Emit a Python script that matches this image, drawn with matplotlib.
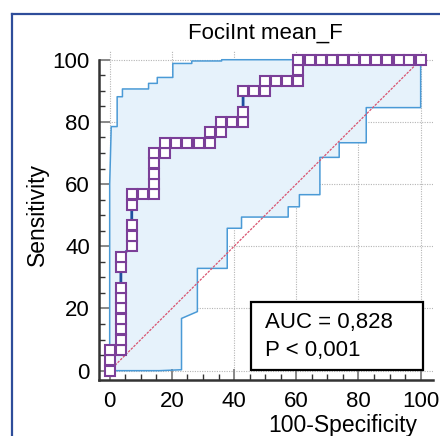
import numpy as np
import matplotlib
matplotlib.use("Agg")
import matplotlib.pyplot as plt
from matplotlib.lines import Line2D
from matplotlib.patches import Rectangle
from matplotlib.ticker import MultipleLocator

plt.rcParams['font.family'] = ['Liberation Sans', 'DejaVu Sans']

title = "FociInt mean_F"
xlabel = "100-Specificity"
ylabel = "Sensitivity"
auc_text = "AUC = 0,828"
p_text = "P < 0,001"
ticks = [0, 20, 40, 60, 80, 100]

# ROC criterion points (100-Specificity, Sensitivity)
fpr = [0, 0, 0, 3.6, 3.6, 3.6, 3.6, 3.6, 3.6, 3.6, 3.6, 3.6,
       7.1, 7.1, 7.1, 7.1, 7.1, 10.7, 14.3, 14.3, 14.3, 14.3, 14.3,
       17.9, 17.9, 21.4, 25.0, 28.6, 32.1, 32.1, 35.7, 35.7, 39.3,
       42.9, 42.9, 42.9, 46.4, 50.0, 50.0, 53.6, 57.1, 60.7, 60.7, 60.7,
       64.3, 67.9, 71.4, 75.0, 78.6, 82.1, 85.7, 89.3, 92.9, 96.4, 100]
tpr = [0, 3.3, 6.7, 6.7, 10.0, 13.3, 16.7, 20.0, 23.3, 26.7, 33.3, 36.7,
       40.0, 43.3, 46.7, 53.3, 56.7, 56.7, 56.7, 60.0, 63.3, 66.7, 70.0,
       70.0, 73.3, 73.3, 73.3, 73.3, 73.3, 76.7, 76.7, 80.0, 80.0,
       80.0, 83.3, 90.0, 90.0, 90.0, 93.3, 93.3, 93.3, 93.3, 96.7, 100,
       100, 100, 100, 100, 100, 100, 100, 100, 100, 100, 100]

# confidence band
upper_x = [0, 0, 0.5, 2.4, 2.4, 4.1, 4.1, 12.5, 12.5, 15.3, 15.3, 20.3, 20.3,
           26.4, 26.4, 36.0, 36.0, 100]
upper_y = [0, 60, 78.5, 78.5, 88.1, 88.1, 90.6, 90.6, 92.4, 92.4, 94.3, 94.3,
           98.8, 98.8, 99.6, 99.6, 100, 100]
lower_x = [0, 16.0, 23.1, 23.1, 28.2, 28.2, 37.8, 37.8, 42.4, 42.4, 57.4, 57.4,
           61.0, 61.0, 67.6, 67.6, 73.8, 73.8, 82.5, 82.5, 100, 100]
lower_y = [0, 0, 0.3, 16.8, 19.0, 32.9, 32.9, 45.8, 45.8, 49.4, 49.4, 52.7,
           52.7, 56.6, 56.6, 68.6, 68.6, 73.3, 73.3, 84.6, 84.6, 100]

diag = [0, 100]

W, H = 440, 436
fig = plt.figure(figsize=(W / 100, H / 100), dpi=100)
ax = fig.add_axes([98.8 / W, (H - 380) / H, (433.1 - 98.8) / W, (380 - 50.4) / H])

ax.set_xlim(-3.5, 104)
ax.set_ylim(-3, 103)

band_x = list(upper_x) + list(lower_x[::-1])
band_y = list(upper_y) + list(lower_y[::-1])
ax.fill(band_x, band_y, color='#e6f2fb', lw=0, zorder=1)
ax.plot(upper_x, upper_y, color='#4a9ad6', lw=1.1, zorder=2)
ax.plot(lower_x, lower_y, color='#4a9ad6', lw=1.1, zorder=2)

ax.plot(diag, diag, color='#d9536f', lw=0.9, ls=(0, (2, 1)), zorder=2)

ax.plot(fpr, tpr, color='#1f4fa0', lw=2.0, zorder=3,
        marker='s', markersize=7.4, markerfacecolor='white',
        markeredgecolor='#7b3f98', markeredgewidth=1.5)

# grid
for t in ticks:
    ax.axhline(t, color='#b5b5b5', lw=0.8, ls=(0, (1, 1.2)), zorder=0.5)
    ax.axvline(t, color='#b5b5b5', lw=0.8, ls=(0, (1, 1.2)), zorder=0.5)

# AUC box
ax.add_patch(Rectangle((45.3, 0.2), 55.3, 22.0, facecolor='white',
                       edgecolor='black', lw=1.6, zorder=4))
ax.text(49.9, 13.6, auc_text, fontsize=16, va='baseline', ha='left', zorder=5)
ax.text(49.9, 4.7, p_text, fontsize=16, va='baseline', ha='left', zorder=5)

for s in ['top', 'right']:
    ax.spines[s].set_visible(False)
ax.spines['left'].set_bounds(-3, 100)
ax.spines['left'].set_linewidth(1.8)
ax.spines['bottom'].set_linewidth(1.8)
ax.spines['left'].set_color('#333333')
ax.spines['bottom'].set_color('#333333')

ax.set_xticks(ticks)
ax.set_yticks(ticks)
ax.xaxis.set_minor_locator(MultipleLocator(5))
ax.yaxis.set_minor_locator(MultipleLocator(5))
ax.tick_params(which='major', direction='in', length=8, width=1.4,
               color='#888888', labelsize=16)
ax.tick_params(which='minor', direction='in', length=4.5, width=1.0,
               color='#333333')
ax.tick_params(axis='y', which='major', pad=6.5)
ax.tick_params(axis='x', which='major', pad=8)

fig.text(265 / W, (H - 39) / H, title, fontsize=16, ha='center', va='baseline')
fig.text(417 / W, (H - 432) / H, xlabel, fontsize=16.5, ha='right', va='baseline')
fig.text(37 / W, (H - 214) / H, ylabel, fontsize=16.5, ha='center', va='center',
         rotation=90)

# outer frame
fig.add_artist(Line2D([12 / W, 12 / W], [0, (H - 14) / H], color='#2e4d9a', lw=1.6))
fig.add_artist(Line2D([12 / W, 1], [(H - 14) / H, (H - 14) / H], color='#2e4d9a', lw=1.6))

fig.savefig('out.png', dpi=100)
